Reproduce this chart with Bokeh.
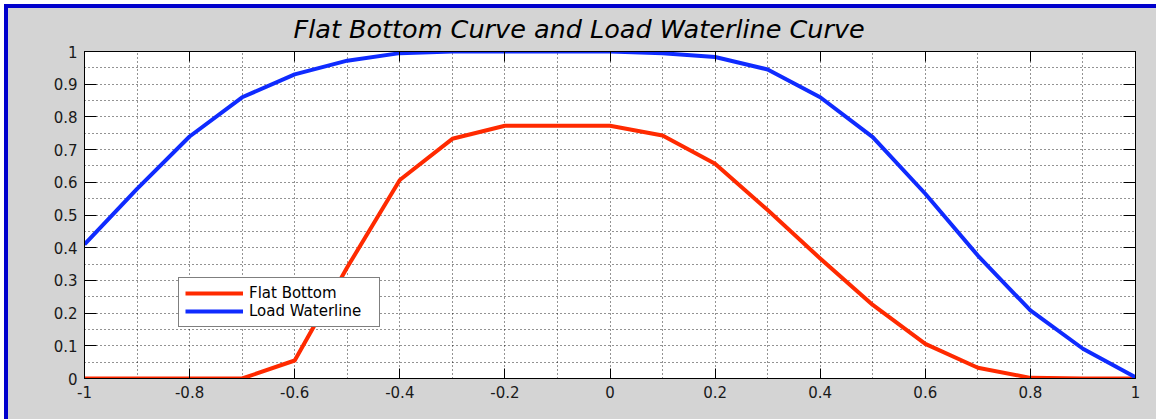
from bokeh.plotting import figure
from bokeh.models import (LinearAxis, FixedTicker, Legend, LegendItem, Range1d,
                          InlineStyleSheet, CustomJSTickFormatter)
from bokeh.embed import file_html
from bokeh.resources import INLINE

# ---- data ----
x_values = [-1.0, -0.9, -0.8, -0.7, -0.6, -0.5, -0.4, -0.3, -0.2, -0.1, 0.0,
            0.1, 0.2, 0.3, 0.4, 0.5, 0.6, 0.7, 0.8, 0.9, 1.0]
flat_bottom = [0.0, 0.0, 0.0, 0.0, 0.055, 0.34, 0.607, 0.733, 0.773, 0.773, 0.773,
               0.743, 0.657, 0.515, 0.367, 0.225, 0.106, 0.033, 0.002, 0.0, 0.0]
load_waterline = [0.41, 0.58, 0.74, 0.86, 0.93, 0.972, 0.995, 1.0, 1.0, 1.0, 1.0,
                  0.995, 0.983, 0.945, 0.86, 0.738, 0.565, 0.376, 0.208, 0.091, 0.004]
series_names = ["Flat Bottom", "Load Waterline"]
title_text = "Flat Bottom Curve and Load Waterline Curve"

x_ticks = [-1, -0.8, -0.6, -0.4, -0.2, 0, 0.2, 0.4, 0.6, 0.8, 1]
x_tick_labels = ["-1", "-0.8", "-0.6", "-0.4", "-0.2", "0", "0.2", "0.4", "0.6", "0.8", "1"]
x_grid_minor = [-0.9, -0.7, -0.5, -0.3, -0.1, 0.1, 0.3, 0.5, 0.7, 0.9]
y_ticks = [0, 0.1, 0.2, 0.3, 0.4, 0.5, 0.6, 0.7, 0.8, 0.9, 1]
y_tick_labels = ["0", "0.1", "0.2", "0.3", "0.4", "0.5", "0.6", "0.7", "0.8", "0.9", "1"]
y_grid_minor = [0.05, 0.15, 0.25, 0.35, 0.45, 0.55, 0.65, 0.75, 0.85, 0.95]

# ---- style ----
GRAY = "#d4d4d4"
RED = "#ff2a00"
BLUE = "#0f2bff"
FONT = "DejaVu Sans"

# window-frame decoration, applied only to the figure's own host element
frame_css = InlineStyleSheet(css="""
:host(.win-frame) { position: relative; }
:host(.win-frame)::before {
  content: ""; position: absolute; left: 0; top: 0; width: 1156px; height: 419px;
  box-sizing: border-box; border-top: 4px solid #ffffff; border-left: 4px solid #ffffff;
  pointer-events: none; z-index: 20;
}
:host(.win-frame)::after {
  content: ""; position: absolute; left: 4px; top: 4px; width: 1152px; height: 415px;
  box-sizing: border-box; border-top: 4px solid #0000cc; border-left: 4px solid #0000cc;
  pointer-events: none; z-index: 21;
}
""")

p = figure(width=1156, height=419, output_backend="svg", toolbar_location=None,
           x_range=Range1d(-1, 1), y_range=Range1d(0, 1),
           min_border_left=84, min_border_right=21, min_border_top=51, min_border_bottom=41,
           background_fill_color="white", border_fill_color=GRAY,
           outline_line_color="black", outline_line_width=1,
           stylesheets=[frame_css], css_classes=["win-frame"])

p.title.text = title_text
p.title.text_font = FONT
p.title.text_font_style = "italic"
p.title.text_font_size = "25.5px"
p.title.text_color = "black"
p.title.align = "left"
p.title.offset = 209
p.title.standoff = 16

xt = FixedTicker(ticks=x_ticks, minor_ticks=x_grid_minor)
yt = FixedTicker(ticks=y_ticks, minor_ticks=y_grid_minor)

LABEL_JS = """
for (let i = 0; i < tvals.length; i++) {
  if (Math.abs(tvals[i] - tick) < 1e-9) { return tlabels[i]; }
}
return "";
"""
x_fmt = CustomJSTickFormatter(args=dict(tvals=x_ticks, tlabels=x_tick_labels), code=LABEL_JS)
y_fmt = CustomJSTickFormatter(args=dict(tvals=y_ticks, tlabels=y_tick_labels), code=LABEL_JS)
blank_fmt = CustomJSTickFormatter(code='return "";')


def style_axis(ax, ticker, tick_len, labels, fmt):
    ax.ticker = ticker
    ax.axis_line_color = "black"
    ax.major_tick_line_color = "black"
    ax.major_tick_in = tick_len
    ax.major_tick_out = 0
    ax.minor_tick_line_color = None
    ax.minor_tick_in = 0
    ax.minor_tick_out = 0
    ax.formatter = fmt
    ax.major_label_text_font = FONT
    if labels:
        ax.major_label_text_font_size = "15px"
        ax.major_label_text_color = "#1a1a1a"
        ax.major_label_standoff = 7
    else:
        ax.major_label_text_font_size = "1px"
        ax.major_label_text_color = GRAY
        ax.major_label_standoff = 0


style_axis(p.xaxis[0], xt, 10, True, x_fmt)
style_axis(p.yaxis[0], yt, 12, True, y_fmt)
top_ax = LinearAxis()
right_ax = LinearAxis()
style_axis(top_ax, xt, 10, False, blank_fmt)
style_axis(right_ax, yt, 12, False, blank_fmt)
p.add_layout(top_ax, "above")
p.add_layout(right_ax, "right")

for g in (p.xgrid[0], p.ygrid[0]):
    g.grid_line_color = "black"
    g.grid_line_dash = "1 3"
    g.grid_line_width = 1
    g.grid_line_alpha = 0.85
    g.minor_grid_line_color = "black"
    g.minor_grid_line_dash = "1 3"
    g.minor_grid_line_width = 1
    g.minor_grid_line_alpha = 0.85
p.xgrid[0].ticker = xt
p.ygrid[0].ticker = yt

r1 = p.line(x_values, flat_bottom, line_color=RED, line_width=4, line_join="round")
r2 = p.line(x_values, load_waterline, line_color=BLUE, line_width=4, line_join="round")

legend = Legend(items=[LegendItem(label=series_names[0], renderers=[r1]),
                       LegendItem(label=series_names[1], renderers=[r2])],
                location=(94, 51), orientation="vertical",
                padding=6, spacing=0, margin=0,
                glyph_width=58, glyph_height=18, label_height=18, label_width=124,
                label_standoff=6,
                label_text_font=FONT, label_text_font_size="15px", label_text_color="black",
                border_line_color="black", border_line_width=1,
                background_fill_color="white", background_fill_alpha=1)
p.add_layout(legend, "center")

open("out.html", "w").write(file_html(p, INLINE))
